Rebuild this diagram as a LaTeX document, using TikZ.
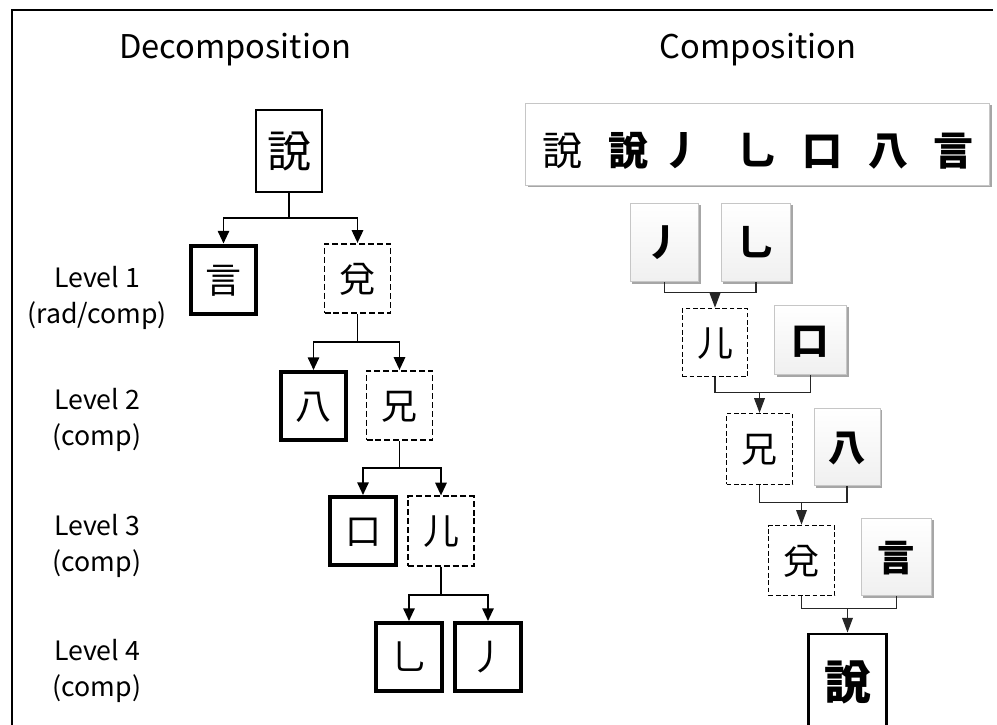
\documentclass[tikz,border=0pt]{standalone}
\usepackage{fontspec}
\setmainfont{Noto Sans CJK KR}
\usetikzlibrary{arrows.meta,shadows,calc}
\begin{document}
\begin{tikzpicture}[x=0.75pt,y=-0.75pt,
  cj/.style={inner sep=0pt, font=\fontsize{#1pt}{#1pt}\selectfont, text height=\fpeval{0.88*#1}pt, text depth=\fpeval{0.12*#1}pt},
  cjb/.style={inner sep=0pt, font=\fontsize{#1pt}{#1pt}\selectfont\bfseries, text height=\fpeval{0.88*#1}pt, text depth=\fpeval{0.12*#1}pt},
  thinbox/.style={draw, line width=1.5pt, fill=white},
  thickbox/.style={cj=27, draw, line width=3pt, fill=white, minimum width=49pt, minimum height=51pt},
  dashbox/.style={cj=27, draw, line width=1.4pt, dash pattern=on 4.5pt off 2.2pt, fill=white, minimum width=49.5pt, minimum height=52pt},
  sbox/.style={cjb=28, draw=gray!45, line width=0.6pt, top color=white, bottom color=gray!12,
     drop shadow={shadow xshift=1.6pt, shadow yshift=-1.6pt, opacity=0.35, fill=black}},
  cdash/.style={cj=27, draw, line width=1.2pt, dash pattern=on 3.5pt off 2pt, fill=white},
  darr/.style={line width=1.4pt, -{Triangle[length=9.5pt,width=8.5pt]}},
  carr/.style={line width=0.9pt, draw=black!85, -{Triangle[length=11pt,width=8pt]}},
  cline/.style={line width=0.9pt, draw=black!85},
  lbl/.style={align=center, font=\fontsize{20}{27}\selectfont},
  ttl/.style={font=\fontsize{24.5}{28}\selectfont}
]
\useasboundingbox (0,0) rectangle (997,725);
\fill[white] (0,0) rectangle (997,725);
% frame
\coordinate (fl) at (12,725);
\coordinate (ftl) at (12,10);
\coordinate (ftr) at (993,10);
\draw[line width=1.1pt] (fl) -- (ftl) -- (ftr);

% titles
\node[ttl] (tdec) at (235,50) {Decomposition};
\node[ttl] (tcom) at (758,50) {Composition};

% level labels
\node[lbl] (l1) at (97,298) {Level 1\\(rad/comp)};
\node[lbl] (l2) at (97,420) {Level 2\\(comp)};
\node[lbl] (l3) at (97,546) {Level 3\\(comp)};
\node[lbl] (l4) at (97,671) {Level 4\\(comp)};

% decomposition tree
\node[cj=33, thinbox, minimum width=49.5pt, minimum height=61pt] (d0) at (289,151) {說};
\node[thickbox] (d1a) at (223.5,279.5) {言};
\node[dashbox] (d1b) at (357.5,278.5) {兌};
\node[thickbox] (d2a) at (313.5,406) {八};
\node[dashbox] (d2b) at (399.5,405.5) {兄};
\node[thickbox] (d3a) at (363,531) {口};
\node[dashbox] (d3b) at (441,531) {儿};
\node[thickbox] (d4a) at (409,657) {乚};
\node[thickbox] (d4b) at (488,657) {丿};

\draw[darr] (d0.south) -- ++(0,25) -| (d1a.north);
\draw[darr] (d0.south) -- ++(0,25) -| (d1b.north);
\draw[darr] (d1b.south) -- ++(0,28) -| (d2a.north);
\draw[darr] (d1b.south) -- ++(0,28) -| (d2b.north);
\draw[darr] (d2b.south) -- ++(0,27) -| (d3a.north);
\draw[darr] (d2b.south) -- ++(0,27) -| (d3b.north);
\draw[darr] (d3b.south) -- ++(0,28) -| (d4a.north);
\draw[darr] (d3b.south) -- ++(0,28) -| (d4b.north);

% composition strip
\node[draw=gray!45, line width=0.6pt, fill=white, minimum width=348pt, minimum height=61.5pt,
      drop shadow={shadow xshift=1.6pt, shadow yshift=-1.6pt, opacity=0.35, fill=black}] (strip) at (757.5,144) {};
\node[cj=30] (s1) at (562,150) {說};
\node[cjb=30] (s2) at (628,150) {說};
\node[cjb=30] (s3) at (682,150) {丿};
\node[cjb=30] (s4) at (757,150) {乚};
\node[cjb=30] (s5) at (822,150) {口};
\node[cjb=30] (s6) at (888,150) {八};
\node[cjb=30] (s7) at (953,150) {言};

% composition tree
\node[sbox, minimum width=51.5pt, minimum height=59pt] (c1a) at (664.5,242.5) {丿};
\node[sbox, minimum width=52pt, minimum height=59pt] (c1b) at (756,242.5) {乚};
\node[cdash, minimum width=49pt, minimum height=51pt] (c2a) at (715,342.5) {儿};
\node[sbox, minimum width=54pt, minimum height=52pt] (c2b) at (810.5,340) {口};
\node[cdash, minimum width=49.5pt, minimum height=53pt] (c3a) at (759.5,449) {兄};
\node[sbox, minimum width=49.5pt, minimum height=58pt] (c3b) at (847,447) {八};
\node[cdash, minimum width=49.5pt, minimum height=52.5pt] (c4a) at (801.5,560.5) {兌};
\node[sbox, minimum width=53pt, minimum height=58pt] (c4b) at (896.5,557) {言};
\node[cjb=35, draw, line width=2.2pt, fill=white, minimum width=59pt, minimum height=72pt] (c5) at (847.5,682) {說};

\coordinate (b1) at ($(c1a.south)+(0,10)$);
\draw[cline] (c1a.south) -- (b1) -| (c1b.south);
\draw[carr] (b1 -| c2a.north) -- (c2a.north);
\coordinate (b2) at ($(c2a.south)+(0,15)$);
\draw[cline] (c2a.south) -- (b2) -| (c2b.south);
\draw[carr] (b2 -| c3a.north) -- (c3a.north);
\coordinate (b3) at ($(c3a.south)+(0,17)$);
\draw[cline] (c3a.south) -- (b3) -| (c3b.south);
\draw[carr] (b3 -| c4a.north) -- (c4a.north);
\coordinate (b4) at ($(c4a.south)+(0,12)$);
\draw[cline] (c4a.south) -- (b4) -| (c4b.south);
\draw[carr] (b4 -| c5.north) -- (c5.north);
\end{tikzpicture}
\end{document}
